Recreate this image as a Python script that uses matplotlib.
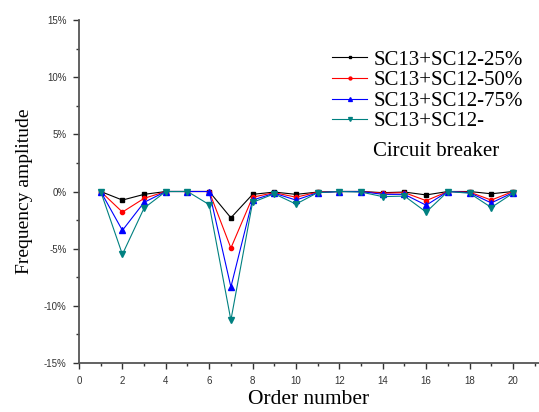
import matplotlib.pyplot as plt
from matplotlib.ticker import MultipleLocator, FuncFormatter

# Harmonic order
orders = list(range(1, 21))

# Frequency amplitude change (%) for each case
sc25 = [0, -0.75, -0.25, 0, 0, 0, -2.3, -0.25, -0.05, -0.25, -0.05, 0, 0, -0.1, -0.05, -0.3, 0, 0, -0.2, 0]
sc50 = [0, -1.8, -0.6, 0, 0, 0, -4.95, -0.5, -0.1, -0.5, -0.05, 0, 0, -0.15, -0.1, -0.8, 0, -0.05, -0.75, 0]
sc75 = [0, -3.4, -0.95, 0, 0, 0, -8.35, -0.75, -0.15, -0.75, -0.1, 0, 0, -0.25, -0.25, -1.2, 0, -0.1, -1.0, -0.1]
scbr = [0, -5.5, -1.45, 0, 0, -1.15, -11.25, -0.95, -0.2, -1.1, -0.1, 0, -0.05, -0.45, -0.4, -1.8, 0, -0.15, -1.4, -0.15]

labels = ['SC13+SC12-25%', 'SC13+SC12-50%', 'SC13+SC12-75%', 'SC13+SC12-']
label_tail = 'Circuit breaker'  # second line of the last legend entry

fig = plt.figure(figsize=(5.39, 4.12), dpi=100)
ax = fig.add_axes([79/539, 1 - 363/412, 460/539, 343/412])

ax.plot(orders, sc25, color='black', marker='s', markersize=3, linewidth=0.8, label=labels[0])
ax.plot(orders, sc50, color='red', marker='o', markersize=3, linewidth=0.8, label=labels[1])
ax.plot(orders, sc75, color='blue', marker='^', markersize=4, linewidth=0.8, label=labels[2])
ax.plot(orders, scbr, color='#008080', marker='v', markersize=4, linewidth=0.8, label=labels[3])

ax.set_xlim(0, 21.2)
ax.set_ylim(-15, 15)
ax.xaxis.set_major_locator(MultipleLocator(2))
ax.xaxis.set_minor_locator(MultipleLocator(1))
ax.yaxis.set_major_locator(MultipleLocator(5))
ax.yaxis.set_minor_locator(MultipleLocator(2.5))
ax.yaxis.set_major_formatter(FuncFormatter(lambda v, p: f'{v:.0f}%'))

for s in ['top', 'right']:
    ax.spines[s].set_visible(False)
for s in ['left', 'bottom']:
    ax.spines[s].set_color('#555555')
    ax.spines[s].set_linewidth(1.3)

ax.tick_params(which='major', direction='out', length=4, width=1, color='#333333',
               labelsize=7, labelcolor='#333333', pad=5)
ax.tick_params(which='minor', direction='out', length=2.5, width=1, color='#333333')
for t in ax.get_xticklabels() + ax.get_yticklabels():
    t.set_family('Liberation Sans')

ax.set_xlabel('Order number', family='Liberation Serif', fontsize=15.5, labelpad=3)
ax.set_ylabel('Frequency amplitude', family='Liberation Serif', fontsize=14, labelpad=8)

leg = ax.legend(loc='upper left', bbox_to_anchor=(332/539, 1 - 50/412), bbox_transform=fig.transFigure,
                frameon=False, prop={'family': 'Liberation Serif', 'size': 15},
                handlelength=1.7, handletextpad=0.3, labelspacing=0.05, borderpad=0,
                borderaxespad=0, markerscale=0.7)
fig.text(373/539, 1 - 151/412, label_tail, family='Liberation Serif', fontsize=15,
         ha='left', va='center')

fig.savefig('out.png', dpi=100)
